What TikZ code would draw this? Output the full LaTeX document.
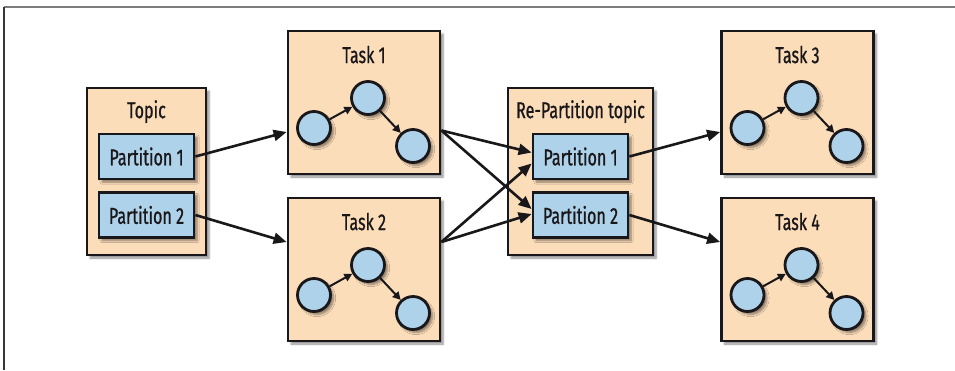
\documentclass[tikz,border=0pt]{standalone}
\usepackage{fontspec}
\setmainfont[FakeStretch=0.7, FakeBold=0.8]{Fira Sans}
\usetikzlibrary{arrows.meta, positioning, shadows.blur}
\definecolor{boxpeach}{RGB}{252,221,186}
\definecolor{partblue}{RGB}{174,210,234}
\definecolor{inkdark}{RGB}{25,23,25}
\definecolor{edgegray}{RGB}{125,125,125}
\definecolor{edgedark}{RGB}{55,55,55}
\tikzset{
  boxshadow/.style={blur shadow={shadow xshift=3pt, shadow yshift=-3pt,
    shadow blur steps=6, shadow opacity=45}},
  groupbox/.style={rectangle, draw=inkdark, fill=boxpeach, line width=2.8pt,
    inner sep=0pt, boxshadow},
  partbox/.style={rectangle, draw=inkdark, fill=partblue, line width=2.8pt,
    inner sep=0pt, minimum width=95pt, minimum height=45pt,
    font=\fontsize{23}{26}\selectfont, text=inkdark, boxshadow},
  title/.style={font=\fontsize{23}{26}\selectfont, text=inkdark, inner sep=0pt},
  knot/.style={circle, draw=inkdark, fill=partblue, line width=2.8pt,
    minimum size=33pt, inner sep=0pt, boxshadow},
  flow/.style={-{Triangle[length=13pt, width=11pt]}, line width=2.6pt, color=inkdark},
  link/.style={-{Triangle[length=8pt, width=8pt]}, line width=2pt, color=inkdark}
}
\begin{document}
\begin{tikzpicture}[x=1pt, y=-1pt]
  \useasboundingbox (0,0) rectangle (955,370);
  \draw[edgegray, line width=1.5pt] (955,7) -- (4,7);
  \draw[edgedark, line width=1.2pt] (4,7) -- (4,370);

  % source topic
  \node[groupbox, minimum width=119pt, minimum height=167pt] (topic) at (146.5,171.5) {};
  \node[title] (topictitle) at ([yshift=-25pt]topic.north) {Topic};
  \node[partbox] (tp1) at (146.5,156.5) {Partition 1};
  \node[partbox] (tp2) at (146.5,215) {Partition 2};

  % re-partition topic
  \node[groupbox, minimum width=145pt, minimum height=167pt] (rp) at (580.5,171.5) {};
  \node[title] (rptitle) at ([yshift=-25pt]rp.north) {Re-Partition topic};
  \node[partbox] (rp1) at (580.5,156.5) {Partition 1};
  \node[partbox] (rp2) at (580.5,215) {Partition 2};

  % tasks
  \node[groupbox, minimum width=152pt, minimum height=143pt] (task1) at (364,102.5) {};
  \node[groupbox, minimum width=152pt, minimum height=143pt] (task2) at (364,269.5) {};
  \node[groupbox, minimum width=152pt, minimum height=143pt] (task3) at (797.5,102.5) {};
  \node[groupbox, minimum width=152pt, minimum height=143pt] (task4) at (797.5,269.5) {};
  \foreach \n in {1,...,4} {
    \node[title] (tasktitle\n) at ([yshift=-25pt]task\n.north) {Task \n};
    \node[knot] (k\n a) at ([shift={(-50pt,-25.5pt)}]task\n.center) {};
    \node[knot] (k\n b) at ([shift={(4pt,4.5pt)}]task\n.center) {};
    \node[knot] (k\n c) at ([shift={(49pt,-43.5pt)}]task\n.center) {};
    \draw[link] (k\n a) -- (k\n b);
    \draw[link] (k\n b) -- (k\n c);
  }

  % connectors
  \draw[flow] (tp1.east) -- ([yshift=-29.5pt]task1.west);
  \draw[flow] (tp2.east) -- ([yshift=27.5pt]task2.west);
  \draw[flow] ([yshift=-28pt]task1.east) -- ([yshift=4pt]rp1.west);
  \draw[flow] ([yshift=-28pt]task1.east) -- ([yshift=6pt]rp2.west);
  \draw[flow] ([yshift=27.5pt]task2.east) -- ([yshift=-7pt]rp1.west);
  \draw[flow] ([yshift=27.5pt]task2.east) -- ([yshift=1pt]rp2.west);
  \draw[flow] (rp1.east) -- ([yshift=-29.5pt]task3.west);
  \draw[flow] (rp2.east) -- ([yshift=27.5pt]task4.west);
\end{tikzpicture}
\end{document}
